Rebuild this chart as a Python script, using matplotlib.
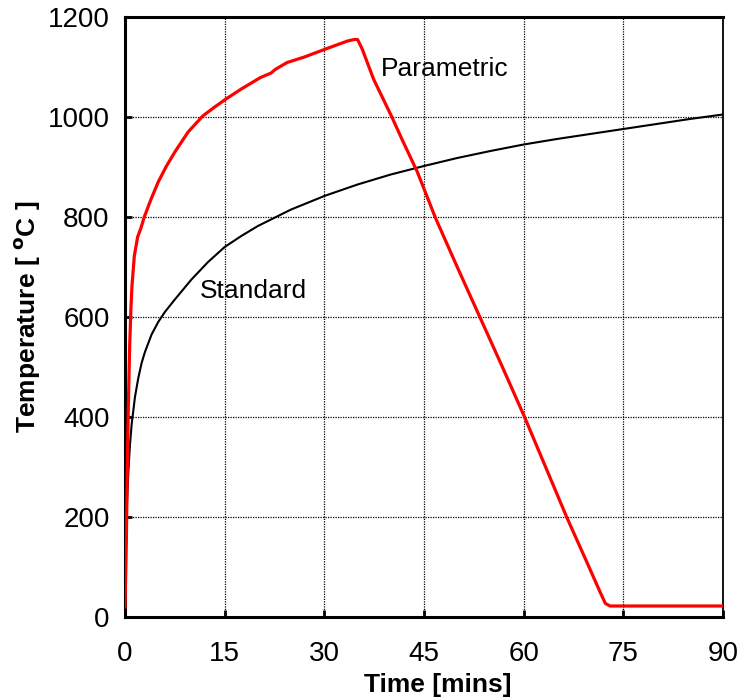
import matplotlib
matplotlib.use("Agg")
import matplotlib.pyplot as plt

# Standard fire curve
std_time = [0, 0.1, 0.25, 0.5, 0.75, 1, 1.5, 2, 2.5, 3, 4, 5, 6, 7.5, 10, 12.5, 15,
            17.5, 20, 25, 30, 35, 40, 45, 50, 55, 60, 65, 70, 75, 80, 85, 90]
std_temp = [20, 120, 210, 290, 345, 385, 440, 478, 508, 530, 565, 590, 610, 635, 675,
            710, 740, 762, 782, 815, 842, 865, 885, 902, 918, 932, 945, 956, 966, 976,
            986, 996, 1005]

# Parametric fire curve
par_time = [0, 0.2, 0.35, 0.5, 0.7, 0.9, 1.05, 1.4, 1.9, 2.4, 2.9, 3.9, 5, 6.2, 7.5,
            9.5, 11.7, 13.5, 15.2, 17.5, 20.4, 22, 22.6, 24.4, 27, 30.4, 33.5, 34.5,
            35.0, 35.7, 37.4, 40.2, 41.7, 44, 46.7, 50, 53.4, 56.8, 60.1, 63.3, 66.5,
            69.5, 71.5, 72.3, 73, 90]
par_temp = [20, 150, 300, 420, 540, 620, 662, 722, 760, 778, 800, 835, 870, 901, 930,
            970, 1002, 1020, 1036, 1056, 1079, 1088, 1095, 1109, 1120, 1137, 1152, 1155,
            1155, 1136, 1076, 999, 955, 890, 799, 700, 600, 500, 401, 300, 199, 110, 50,
            27, 22, 22]

x_ticks = [0, 15, 30, 45, 60, 75, 90]
y_ticks = [0, 200, 400, 600, 800, 1000, 1200]

plt.rcParams['font.family'] = ['Liberation Sans', 'DejaVu Sans']

fig = plt.figure(figsize=(7.41, 7.00), dpi=100)
ax = fig.add_axes([125/741, 1 - 617/700, (723 - 125)/741, (617 - 17)/700])

ax.plot(std_time, std_temp, color='black', lw=1.5, zorder=3)
ax.plot(par_time, par_temp, color='#ff0000', lw=2.3, zorder=4)

ax.set_xlim(0, 90)
ax.set_ylim(0, 1200)
ax.set_xticks(x_ticks)
ax.set_yticks(y_ticks)
ax.grid(True, color='black', linestyle=(0, (1, 1)), lw=0.9)
ax.tick_params(direction='in', length=5, width=2, labelsize=20)
ax.tick_params(axis='y', pad=11)
ax.tick_params(axis='x', pad=17)

for side in ['left', 'bottom', 'top']:
    ax.spines[side].set_linewidth(2.2)
ax.spines['right'].set_linewidth(1.3)

ax.set_xlabel('Time [mins]', fontsize=19, fontweight='bold')
ax.xaxis.set_label_coords(0.523, -0.093)
ax.set_ylabel('Temperature [ $^{\\mathbf{o}}$C ]', fontsize=19, fontweight='bold', labelpad=4)

ax.text(38.5, 1096, 'Parametric', fontsize=19, va='center', ha='left')
ax.text(11.3, 651, 'Standard', fontsize=19, va='center', ha='left')

fig.savefig('out.png', dpi=100)
